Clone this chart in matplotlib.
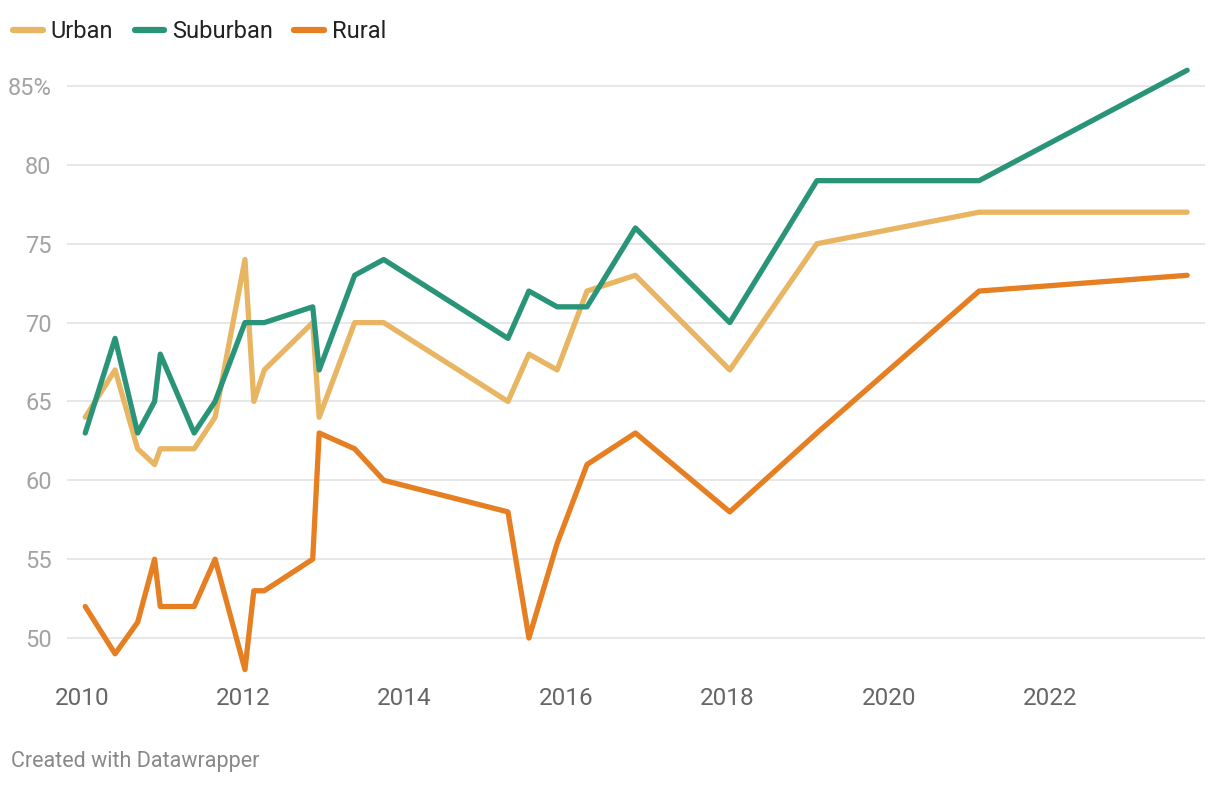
import matplotlib
matplotlib.use("Agg")
import matplotlib.pyplot as plt
from matplotlib.ticker import FuncFormatter

plt.rcParams['font.family'] = ['Roboto', 'DejaVu Sans']

# x positions (decimal years), shared by all three series
years = [2010.04, 2010.41, 2010.69, 2010.90, 2010.97, 2011.39, 2011.65,
         2012.02, 2012.13, 2012.26, 2012.86, 2012.94, 2013.38, 2013.74,
         2015.28, 2015.54, 2015.89, 2016.26, 2016.86, 2018.03, 2019.11,
         2021.12, 2023.70]

urban = [64, 67, 62, 61, 62, 62, 64, 74, 65, 67, 70, 64, 70, 70,
         65, 68, 67, 72, 73, 67, 75, 77, 77]
suburban = [63, 69, 63, 65, 68, 63, 65, 70, 70, 70, 71, 67, 73, 74,
            69, 72, 71, 71, 76, 70, 79, 79, 86]
rural = [52, 49, 51, 55, 52, 52, 55, 48, 53, 53, 55, 63, 62, 60,
         58, 50, 56, 61, 63, 58, 63, 72, 73]

series = ['Urban', 'Suburban', 'Rural']
colors = ['#e8b562', '#2a9478', '#e67e22']
yticks = [50, 55, 60, 65, 70, 75, 80, 85]
xticks = [2010, 2012, 2014, 2016, 2018, 2020, 2022]

W, H = 1220, 786
fig = plt.figure(figsize=(W / 100, H / 100), dpi=100)
# axes box in pixels: left 67, right 1205, top 60, bottom 680
ax = fig.add_axes([67 / W, (H - 680) / H, (1205 - 67) / W, (680 - 60) / H])

for name, vals, c in zip(series, [urban, suburban, rural], colors):
    ax.plot(years, vals, color=c, lw=3.8, solid_capstyle='round',
            solid_joinstyle='round', label=name)

ax.set_xlim(2009.814, 2023.921)
ax.set_ylim(47.34, 86.65)
ax.set_yticks(yticks)
ax.set_xticks(xticks)
ax.yaxis.set_major_formatter(FuncFormatter(lambda v, p: f"{v:.0f}%" if v == 85 else f"{v:.0f}"))
ax.grid(axis='y', color='#e3e3e3', lw=1.2)
ax.set_axisbelow(True)
for s in ax.spines.values():
    s.set_visible(False)
ax.tick_params(axis='y', length=0, pad=11, labelsize=17, labelcolor='#a3a3a3')
ax.tick_params(axis='x', length=0, pad=5, labelsize=17.5, labelcolor='#666666')

leg = fig.legend(loc='center left', bbox_to_anchor=(13 / W, 1 - 32 / H), ncol=3,
                 frameon=False, fontsize=17, handlelength=1.25, handletextpad=0.35,
                 columnspacing=0.9, borderaxespad=0, borderpad=0)
for t in leg.get_texts():
    t.set_color('#222222')
for h in leg.get_lines():
    h.set_linewidth(4.5)
    h.set_solid_capstyle('round')

fig.text(11 / W, 1 - 762 / H, 'Created with Datawrapper', fontsize=15.5,
         color='#888888', va='center', ha='left')

fig.savefig('out.png', dpi=100)
